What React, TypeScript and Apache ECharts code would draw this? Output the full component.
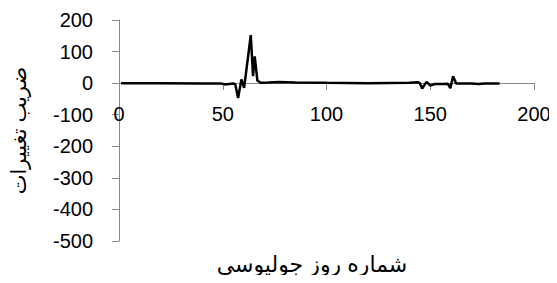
import React, { useEffect, useRef } from "react";
import * as echarts from "echarts";

const days = [1, 20, 40, 49, 51, 55, 56, 57.4, 59, 60.3, 63.5, 64.6, 65.4, 66.7, 68.3, 72, 77, 85, 100, 120, 140, 144, 145, 146.1, 148.2, 150.1, 152, 156, 158.5, 159.7, 161, 162.5, 170, 173.3, 176, 183.4];
const values = [0, 0, -1, -1, -4, -1, -3, -47, 12, -15, 152, 22, 85, 8, 1, 2, 4, 2, 1, 0, 1, 3, 0, -17, 4, -8, -3, -3, -2, -16, 22, -1, -1, -3, -1, -1];
const yTitle = "ضریب تغییرات";
const xTitle = "شماره روز جولیوسی";

const FONT = "'Liberation Sans', Arial, 'DejaVu Sans', sans-serif";

export default function App() {
  const ref = useRef<HTMLDivElement>(null);
  useEffect(() => {
    if (!ref.current) return;
    const chart = echarts.init(ref.current, undefined, { renderer: "svg" });
    const data = days.map((d, i) => [d, values[i]]);
    chart.setOption({
      animation: false,
      backgroundColor: "#fff",
      grid: { left: 117, right: 23, top: 20, bottom: 42, containLabel: false },
      xAxis: {
        type: "value",
        min: 0,
        max: 200,
        interval: 50,
        position: "bottom",
        offset: -158,
        z: 1,
        axisLine: { show: true, onZero: false, lineStyle: { color: "#898989", width: 1 } },
        axisTick: { show: true, length: 7, lineStyle: { color: "#898989" } },
        axisLabel: { color: "#000", fontSize: 20, fontFamily: FONT, margin: 21 },
        splitLine: { show: false },
      },
      yAxis: {
        type: "value",
        min: -500,
        max: 200,
        interval: 100,
        name: yTitle,
        nameLocation: "middle",
        nameGap: 90,
        nameRotate: 90,
        nameTextStyle: { color: "#000", fontSize: 21, fontFamily: FONT },
        axisLine: { show: true, onZero: false, lineStyle: { color: "#898989", width: 1 } },
        axisTick: { show: true, length: 7, lineStyle: { color: "#898989" } },
        axisLabel: { color: "#000", fontSize: 20, fontFamily: FONT, margin: 26 },
        splitLine: { show: false },
      },
      graphic: [
        {
          type: "text",
          x: 312,
          y: 264,
          style: {
            text: xTitle,
            fill: "#000",
            fontSize: 22,
            fontFamily: FONT,
            align: "center",
            verticalAlign: "middle",
          },
        },
      ],
      series: [
        {
          type: "line",
          data,
          showSymbol: false,
          symbol: "none",
          z: 3,
          lineStyle: { color: "#000", width: 2.5 },
        },
      ],
    });
    return () => chart.dispose();
  }, []);
  return <div ref={ref} style={{ width: 557, height: 283, margin: -8 }} />;
}
